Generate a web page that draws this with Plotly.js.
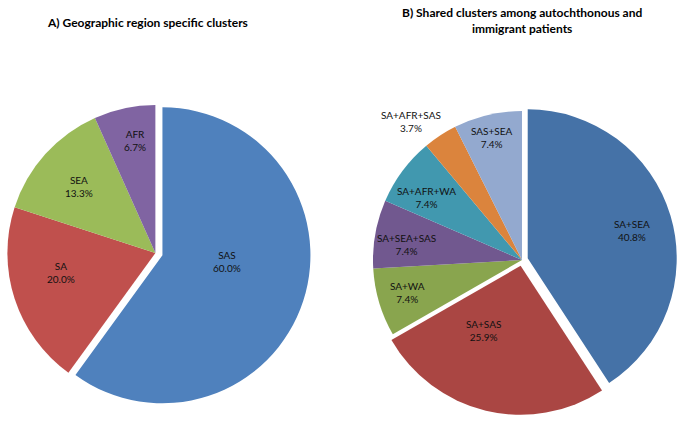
<!DOCTYPE html>
<html>
<head>
<meta charset="utf-8">
<script src="https://cdn.plot.ly/plotly-3.0.1.min.js"></script>
<style>html,body{margin:0;padding:0;background:#fff}#chart{width:683px;height:421px}</style>
</head>
<body>
<div id="chart"></div>
<script>
// Panel A: geographic region specific clusters (% of clusters)
const labelsA = ["SAS", "SA", "SEA", "AFR"];
const valuesA = [60.0, 20.0, 13.3, 6.7];

// Panel B: shared clusters among autochthonous and immigrant patients (% of clusters)
const labelsB = ["SA+SEA", "SA+SAS", "SA+WA", "SA+SEA+SAS", "SA+AFR+WA", "SA+AFR+SAS", "SAS+SEA"];
const valuesB = [40.8, 25.9, 7.4, 7.4, 7.4, 3.7, 7.4];

const titleA = "A) Geographic region specific clusters";
const titleB = "B) Shared clusters among autochthonous and<br>immigrant patients";

// ---- styling ----
const colorsA = ["#4F81BD", "#C0504D", "#9BBB59", "#8064A2"];
const colorsB = ["#4572A7", "#AA4643", "#89A54E", "#71588F", "#4198AF", "#DB843D", "#93A9CF"];
const pullA = [0.05, 0, 0, 0];
const pullB = [0.04, 0.04, 0, 0, 0, 0, 0];
// label placement per slice: [radius factor, fraction across the slice's angular span]
const labelPosA = [[0.44, 0.44], [0.65, 0.585], [0.685, 0.48], [0.77, 0.58]];
const labelPosB = [[0.725, 0.51], [0.5, 0.68], [0.795, 0.53], [0.78, 0.40], [0.77, 0.37], [1.19, 0.10], [0.85, 0.48]];

const W = 683, H = 421;
const font = "Lato, 'Open Sans', 'Liberation Sans', sans-serif";
const txtFont = {family: font, size: 10, color: "#111"};

// pie geometry (paper pixels, y from top)
const geoA = {cx: 155.4, cy: 253, r: 148};
const geoB = {cx: 522, cy: 260, r: 149};

function domainFor(geo, pulls) {
  const s = 2 * geo.r * (1 + Math.max.apply(null, pulls));
  return {x: [Math.max(0, (geo.cx - s / 2) / W), Math.min(1, (geo.cx + s / 2) / W)],
          y: [(H - geo.cy - s / 2) / H, (H - geo.cy + s / 2) / H]};
}

function pieTrace(labels, values, colors, pulls, geo) {
  return {
    type: "pie", labels: labels, values: values, sort: false, direction: "clockwise", rotation: 0,
    marker: {colors: colors, line: {width: 0}}, pull: pulls,
    textinfo: "none", hoverinfo: "label+percent",
    domain: domainFor(geo, pulls), showlegend: false
  };
}

// labels placed from the data: each slice's angular span and pull offset
function sliceLabels(labels, values, pulls, geo, pos) {
  const total = values.reduce((a, b) => a + b, 0);
  const out = [];
  let cum = 0;
  values.forEach((v, i) => {
    const a0 = cum / total * 2 * Math.PI;
    const a1 = (cum + v) / total * 2 * Math.PI;
    cum += v;
    const mid = (a0 + a1) / 2;
    const ox = geo.cx + pulls[i] * geo.r * Math.sin(mid);
    const oy = geo.cy - pulls[i] * geo.r * Math.cos(mid);
    const ang = a0 + pos[i][1] * (a1 - a0);
    const px = ox + pos[i][0] * geo.r * Math.sin(ang);
    const py = oy - pos[i][0] * geo.r * Math.cos(ang);
    out.push({
      text: labels[i] + "<br>" + (v / total * 100).toFixed(1) + "%",
      xref: "paper", yref: "paper", x: px / W, y: 1 - py / H,
      xanchor: "center", yanchor: "middle", showarrow: false, font: txtFont, align: "center"
    });
  });
  return out;
}

const annotations = []
  .concat(sliceLabels(labelsA, valuesA, pullA, geoA, labelPosA))
  .concat(sliceLabels(labelsB, valuesB, pullB, geoB, labelPosB));

annotations.push(
  {text: "<b>" + titleA + "</b>", xref: "paper", yref: "paper", x: 147 / W, y: 1 - 23 / H,
   xanchor: "center", yanchor: "middle", showarrow: false, font: {family: font, size: 12, color: "#000"}},
  {text: "<b>" + titleB + "</b>", xref: "paper", yref: "paper", x: 522 / W, y: 1 - 20 / H,
   xanchor: "center", yanchor: "middle", showarrow: false, font: {family: font, size: 12, color: "#000"}}
);

const layout = {
  width: W, height: H, margin: {l: 0, r: 0, t: 0, b: 0},
  paper_bgcolor: "#fff", plot_bgcolor: "#fff", showlegend: false,
  font: txtFont, annotations: annotations
};

Plotly.newPlot("chart", [
  pieTrace(labelsA, valuesA, colorsA, pullA, geoA),
  pieTrace(labelsB, valuesB, colorsB, pullB, geoB)
], layout, {staticPlot: true, displayModeBar: false});
</script>
</body>
</html>
